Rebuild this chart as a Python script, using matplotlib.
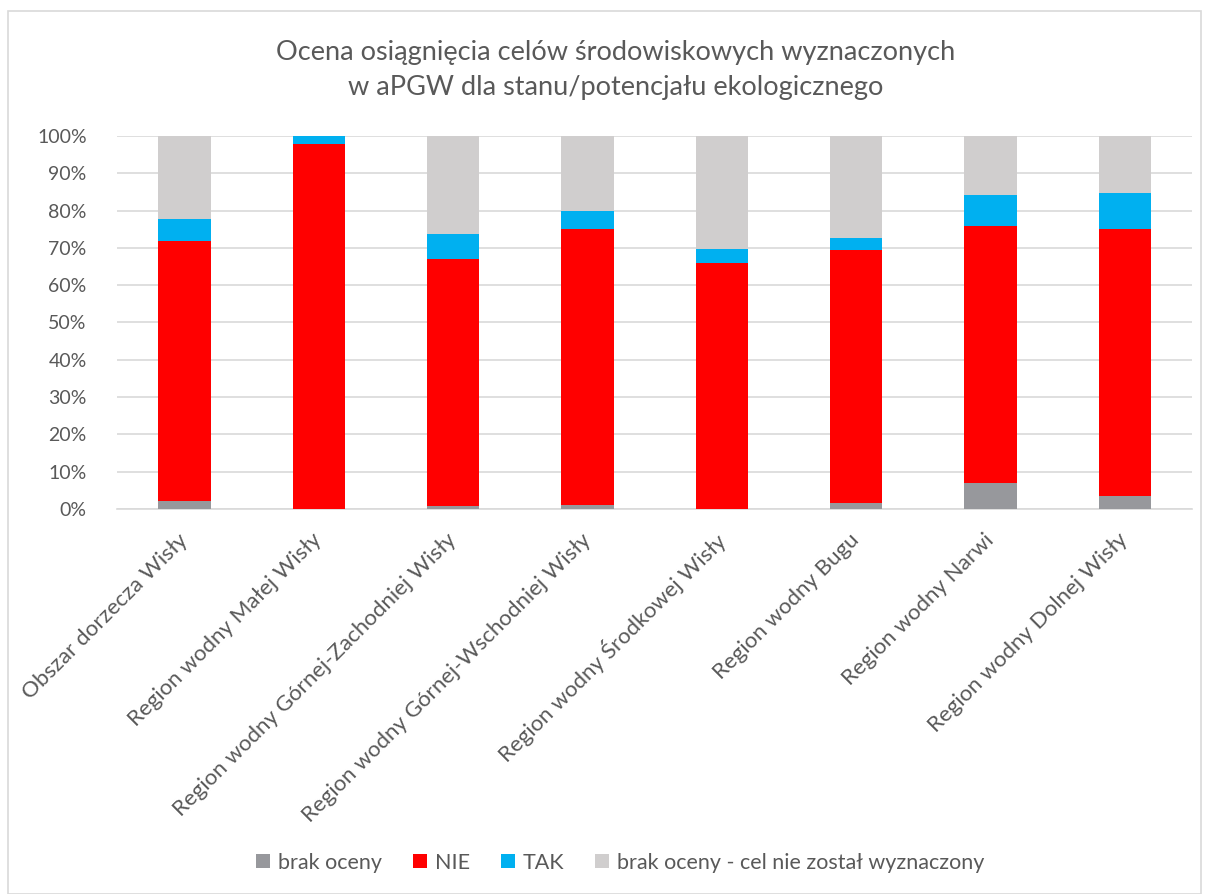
import matplotlib.pyplot as plt
import numpy as np
from matplotlib.patches import Rectangle

plt.rcParams['font.family'] = ['Lato', 'DejaVu Sans']

# Dane (w %)
regiony = ['Obszar dorzecza Wisły', 'Region wodny Małej Wisły',
           'Region wodny Górnej-Zachodniej Wisły', 'Region wodny Górnej-Wschodniej Wisły',
           'Region wodny Środkowej Wisły', 'Region wodny Bugu',
           'Region wodny Narwi', 'Region wodny Dolnej Wisły']
brak_oceny = [2.1, 0.0, 0.9, 1.0, 0.0, 1.6, 7.0, 3.5]
nie = [69.6, 97.8, 66.0, 74.1, 66.0, 67.9, 68.9, 71.5]
tak = [6.0, 2.2, 6.8, 4.9, 3.7, 3.2, 8.2, 9.8]
brak_celu = [22.3, 0.0, 26.3, 20.0, 30.3, 27.3, 15.9, 15.2]

serie = [('brak oceny', brak_oceny, '#97989c'),
         ('NIE', nie, '#ff0000'),
         ('TAK', tak, '#00b0f0'),
         ('brak oceny - cel nie został wyznaczony', brak_celu, '#d0cece')]

text_color = '#595959'

fig = plt.figure(figsize=(12.09, 8.94), dpi=100)
fig.patches.append(Rectangle((0.007, 0.0), 0.986, 0.988, transform=fig.transFigure,
                             fill=False, edgecolor='#d9d9d9', linewidth=1.2))
ax = fig.add_axes([0.097, 0.4306, 0.889, 0.4174])

x = np.arange(len(regiony))
bottom = np.zeros(len(regiony))
for nazwa, vals, kolor in serie:
    vals = np.array(vals) / 100
    ax.bar(x, vals, 0.39, bottom=bottom, color=kolor, label=nazwa, zorder=3)
    bottom += vals

ax.set_xlim(-0.5, len(regiony) - 0.5)
ax.set_ylim(0, 1)
ax.set_yticks(np.arange(0, 1.01, 0.1))
ax.set_yticklabels([f'{int(round(v * 100))}%' for v in np.arange(0, 1.01, 0.1)])
ax.grid(axis='y', color='#d9d9d9', linewidth=1.2, zorder=0)
for s in ['top', 'right', 'left']:
    ax.spines[s].set_visible(False)
ax.spines['bottom'].set_color('#d9d9d9')
ax.spines['bottom'].set_linewidth(1.2)
ax.tick_params(axis='both', length=0, colors=text_color, labelsize=14)
ax.tick_params(axis='y', pad=22)

ax.set_xticks(x)
ax.set_xticklabels(regiony, rotation=45, ha='right', va='center',
                   rotation_mode='anchor', fontsize=16, color=text_color)
ax.tick_params(axis='x', pad=20)

fig.text(0.509, 0.922, 'Ocena osiągnięcia celów środowiskowych wyznaczonych\nw aPGW dla stanu/potencjału ekologicznego',
         ha='center', va='center', fontsize=19.5, color=text_color, linespacing=1.5)

fig.legend(loc='center', bbox_to_anchor=(0.513, 0.035), ncol=4, frameon=False,
           fontsize=15.5, labelcolor=text_color, handlelength=0.65, handleheight=0.65,
           handletextpad=0.35, columnspacing=1.45)

fig.savefig('out.png', dpi=100)
